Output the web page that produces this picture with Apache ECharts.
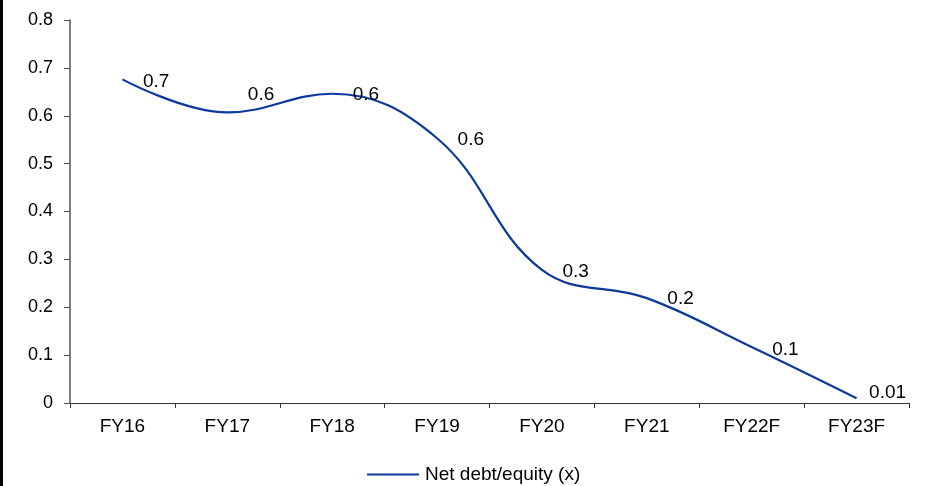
<!DOCTYPE html>
<html>
<head>
<meta charset="utf-8">
<script src="https://cdn.jsdelivr.net/npm/echarts@6/dist/echarts.min.js"></script>
<style>
  html, body { margin: 0; padding: 0; background: #fff; }
  #chart { width: 925px; height: 486px; }
</style>
</head>
<body>
<div id="chart"></div>
<script>
// Net debt to equity ratio by fiscal year (F = forecast)
const categories = ['FY16', 'FY17', 'FY18', 'FY19', 'FY20', 'FY21', 'FY22F', 'FY23F'];
const netDebtEquity = [0.676, 0.607, 0.646, 0.553, 0.278, 0.219, 0.117, 0.01];
const yTicks = { min: 0, max: 0.8, step: 0.1 };
const seriesName = 'Net debt/equity (x)';

// Per-point label nudges (px) where a label sits away from its default spot
const labelNudge = [[0, 2], [0, -18], [0, 1], [0, 2], [0, 2], [0, 1], [0, 3], [-8, -5]];

const fontFamily = 'Liberation Sans, Arial, sans-serif';
const lineColor = '#0b3a9c';

const seriesData = netDebtEquity.map((v, i) => ({
  value: v,
  label: { offset: labelNudge[i] }
}));

function fmtValue(v) {
  return v < 0.05 ? v.toFixed(2) : v.toFixed(1);
}

const chart = echarts.init(document.getElementById('chart'), null, { renderer: 'canvas' });
chart.setOption({
  animation: false,
  backgroundColor: '#ffffff',
  grid: { left: 70, right: 16, top: 20, bottom: 83, containLabel: false },
  graphic: [{
    type: 'rect',
    left: 0, top: 0,
    shape: { x: 0, y: 0, width: 3, height: 486 },
    style: { fill: '#000' }
  }],
  legend: {
    data: [{ name: seriesName, itemStyle: { color: lineColor, opacity: 1 } }],
    left: 362,
    top: 460,
    icon: 'rect',
    itemWidth: 52,
    itemHeight: 2,
    itemGap: 10,
    itemStyle: { color: lineColor, opacity: 1 },
    textStyle: { fontFamily, fontSize: 19, color: '#000', padding: [0, 0, 0, 1] }
  },
  xAxis: {
    type: 'category',
    data: categories,
    boundaryGap: true,
    axisLine: { lineStyle: { color: '#333', width: 1 } },
    axisTick: { show: true, length: 5, alignWithLabel: false, lineStyle: { color: '#333' } },
    axisLabel: { fontFamily, fontSize: 19, color: '#000', margin: 14 },
    splitLine: { show: false }
  },
  yAxis: {
    type: 'value',
    min: yTicks.min,
    max: yTicks.max,
    interval: yTicks.step,
    axisLine: { show: true, lineStyle: { color: '#555', width: 1.5 } },
    axisTick: { show: true, length: 6, lineStyle: { color: '#555' } },
    axisLabel: {
      fontFamily, fontSize: 18, color: '#000', margin: 17,
      formatter: v => (v === 0 ? '0' : v.toFixed(1))
    },
    splitLine: { show: false }
  },
  series: [{
    name: seriesName,
    type: 'line',
    data: seriesData,
    smooth: 0.4,
    showSymbol: true,
    symbol: 'circle',
    symbolSize: 1,
    itemStyle: { color: lineColor, opacity: 0 },
    lineStyle: { color: lineColor, width: 2.2 },
    label: {
      show: true,
      position: 'right',
      distance: 20,
      fontFamily,
      fontSize: 19,
      color: '#000',
      opacity: 1,
      formatter: p => fmtValue(p.value)
    },
    emphasis: { disabled: true }
  }]
});
</script>
</body>
</html>
